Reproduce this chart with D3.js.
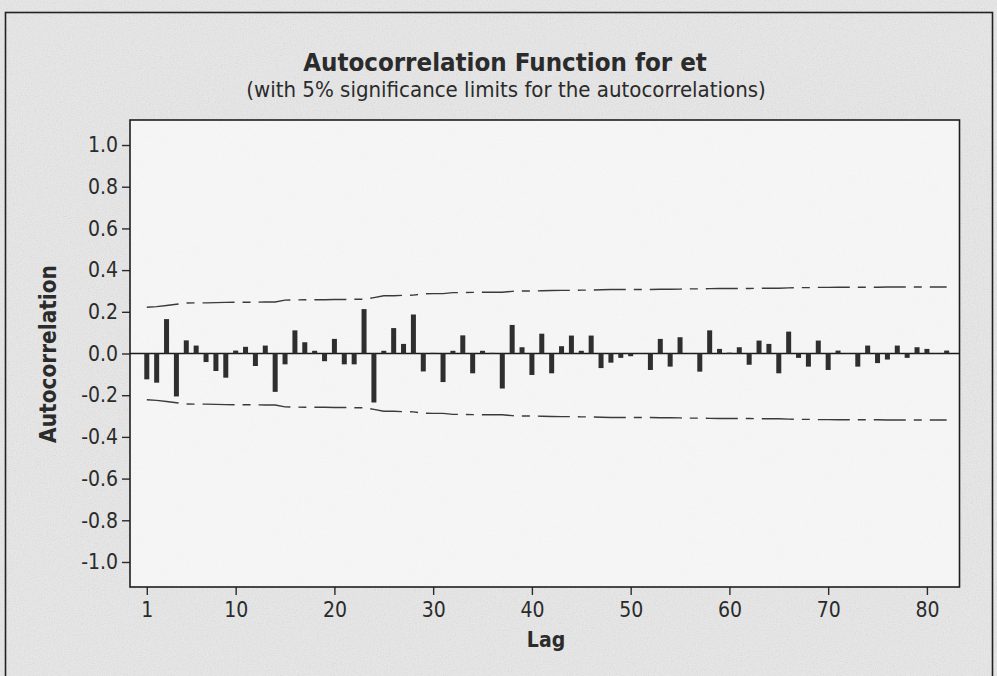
<!DOCTYPE html>
<html>
<head>
<meta charset="utf-8">
<script src="https://cdn.jsdelivr.net/npm/d3@7"></script>
<style>
  html, body { margin: 0; padding: 0; background: #e8e8e8; }
  svg { display: block; }
  text { font-family: 'DejaVu Sans Condensed', 'DejaVu Sans', sans-serif; font-stretch: condensed; fill: #2b2b2b; }
</style>
</head>
<body>
<svg id="chart" width="997" height="676"></svg>
<script>
// Sample autocorrelations of the residual series et, lags 1..82
const acf = [
  -0.124, -0.140,  0.165, -0.206,  0.063,  0.038, -0.041, -0.084, -0.116,  0.014,
   0.032, -0.060,  0.038, -0.184, -0.052,  0.111,  0.054,  0.013, -0.037,  0.070,
  -0.052, -0.052,  0.213, -0.235,  0.013,  0.122,  0.046,  0.187, -0.086,  0.003,
  -0.137,  0.013,  0.087, -0.095,  0.013,  0.003, -0.168,  0.137,  0.030, -0.103,
   0.095, -0.095,  0.035,  0.086,  0.013,  0.086, -0.070, -0.044, -0.021, -0.013,
   0.002, -0.079,  0.070, -0.063,  0.078,  0.002, -0.087,  0.111,  0.022,  0.004,
   0.030, -0.054,  0.062,  0.046, -0.095,  0.105, -0.021, -0.063,  0.062, -0.079,
   0.014,  0.002, -0.063,  0.038, -0.046, -0.029,  0.038, -0.021,  0.030,  0.022,
   0.002,  0.014
];

// 5% significance limit at each lag (drawn as +limit and -limit)
const limits = [
  0.222, 0.225, 0.230, 0.236, 0.242, 0.243, 0.243, 0.244, 0.245, 0.246,
  0.246, 0.246, 0.247, 0.247, 0.256, 0.257, 0.258, 0.258, 0.258, 0.259,
  0.259, 0.260, 0.260, 0.268, 0.277, 0.277, 0.279, 0.280, 0.286, 0.287,
  0.287, 0.292, 0.292, 0.293, 0.294, 0.294, 0.294, 0.298, 0.300, 0.300,
  0.301, 0.302, 0.303, 0.303, 0.304, 0.304, 0.306, 0.307, 0.307, 0.307,
  0.307, 0.307, 0.308, 0.308, 0.309, 0.310, 0.310, 0.311, 0.312, 0.312,
  0.312, 0.312, 0.313, 0.313, 0.313, 0.315, 0.316, 0.316, 0.317, 0.317,
  0.318, 0.318, 0.318, 0.318, 0.318, 0.319, 0.319, 0.319, 0.319, 0.319,
  0.319, 0.319
];

const xTicks = [1, 10, 20, 30, 40, 50, 60, 70, 80];
const yTicks = [-1.0, -0.8, -0.6, -0.4, -0.2, 0.0, 0.2, 0.4, 0.6, 0.8, 1.0];

const titleText = "Autocorrelation Function for et";
const subtitleText = "(with 5% significance limits for the autocorrelations)";
const xLabel = "Lag";
const yLabel = "Autocorrelation";

const W = 997, H = 676;
const plot = { left: 130, right: 959.5, top: 120, bottom: 587 };

const svg = d3.select("#chart");
const defs = svg.append("defs");

// paper grain
const grain = defs.append("filter").attr("id", "grain")
  .attr("x", 0).attr("y", 0).attr("width", "100%").attr("height", "100%");
grain.append("feTurbulence").attr("type", "fractalNoise")
  .attr("baseFrequency", 0.85).attr("numOctaves", 2).attr("seed", 7).attr("result", "n");
grain.append("feColorMatrix").attr("type", "saturate").attr("values", 0);

// page background with grain
svg.append("rect").attr("width", W).attr("height", H).attr("fill", "#e9e9e9");
svg.append("rect").attr("width", W).attr("height", H)
  .attr("filter", "url(#grain)").attr("opacity", 0.25);

// outer frame
svg.append("rect")
  .attr("x", 5.5).attr("y", 12.5).attr("width", 987).attr("height", 700)
  .attr("fill", "none").attr("stroke", "#222").attr("stroke-width", 1.6);

// plot area
svg.append("rect")
  .attr("x", plot.left).attr("y", plot.top)
  .attr("width", plot.right - plot.left).attr("height", plot.bottom - plot.top)
  .attr("fill", "#f7f7f7");
svg.append("rect")
  .attr("x", plot.left).attr("y", plot.top)
  .attr("width", plot.right - plot.left).attr("height", plot.bottom - plot.top)
  .attr("filter", "url(#grain)").attr("opacity", 0.07);

const x = d3.scaleLinear().domain([-0.7, 83.3]).range([plot.left, plot.right]);
const y = d3.scaleLinear().domain([-1.12, 1.12]).range([plot.bottom, plot.top]);

const lags = acf.map((_, i) => i + 1);

// significance limits
const limitLine = sign => d3.line()
  .x((d, i) => x(lags[i]))
  .y(d => y(sign * d));

[1, -1].forEach(sign => {
  svg.append("path")
    .datum(limits)
    .attr("d", limitLine(sign))
    .attr("fill", "none")
    .attr("stroke", "#3a3a3a")
    .attr("stroke-width", 1.4)
    .attr("stroke-dasharray", "32,8,8,8");
});

// zero reference line
svg.append("line")
  .attr("x1", plot.left).attr("x2", plot.right)
  .attr("y1", y(0)).attr("y2", y(0))
  .attr("stroke", "#1a1a1a").attr("stroke-width", 1.6);

// autocorrelation bars
const barW = 5;
svg.append("g").selectAll("rect")
  .data(acf)
  .join("rect")
  .attr("x", (d, i) => x(lags[i]) - barW / 2)
  .attr("y", d => y(Math.max(0, d)))
  .attr("width", barW)
  .attr("height", d => Math.abs(y(d) - y(0)))
  .attr("fill", "#2e2e2e");

// axes
const yAxis = svg.append("g")
  .attr("transform", `translate(${plot.left},0)`)
  .call(d3.axisLeft(y).tickValues(yTicks).tickFormat(d => d.toFixed(1))
    .tickSize(8).tickSizeOuter(0).tickPadding(4));
const xAxis = svg.append("g")
  .attr("transform", `translate(0,${plot.bottom})`)
  .call(d3.axisBottom(x).tickValues(xTicks).tickFormat(d => d)
    .tickSize(8).tickSizeOuter(0).tickPadding(7));

[yAxis, xAxis].forEach(g => {
  g.select(".domain").remove();
  g.selectAll(".tick line").attr("stroke", "#2b2b2b").attr("stroke-width", 1.4);
  g.selectAll(".tick text")
    .attr("fill", "#2b2b2b")
    .style("font-size", "21px")
    .style("font-family", null);
});

// plot border
svg.append("rect")
  .attr("x", plot.left).attr("y", plot.top)
  .attr("width", plot.right - plot.left).attr("height", plot.bottom - plot.top)
  .attr("fill", "none").attr("stroke", "#1e1e1e").attr("stroke-width", 1.6);

// fit a text element's width by adjusting its font size
function fitWidth(sel, target) {
  const node = sel.node();
  const fs = parseFloat(sel.style("font-size"));
  const w = node.getComputedTextLength();
  if (w > 0) sel.style("font-size", (fs * target / w) + "px");
}

// titles
const t1 = svg.append("text")
  .attr("x", 505).attr("y", 71)
  .attr("text-anchor", "middle")
  .style("font-size", "22px").style("font-weight", "bold")
  .text(titleText);
fitWidth(t1, 404);

const t2 = svg.append("text")
  .attr("x", 506).attr("y", 97)
  .attr("text-anchor", "middle")
  .style("font-size", "18px")
  .text(subtitleText);
fitWidth(t2, 520);

// axis titles
const xl = svg.append("text")
  .attr("x", 546).attr("y", 647)
  .attr("text-anchor", "middle")
  .style("font-size", "21px").style("font-weight", "bold")
  .text(xLabel);

const yl = svg.append("text")
  .attr("transform", `translate(56,354) rotate(-90)`)
  .attr("text-anchor", "middle")
  .style("font-size", "20px").style("font-weight", "bold")
  .text(yLabel);
fitWidth(yl, 178);
</script>
</body>
</html>
